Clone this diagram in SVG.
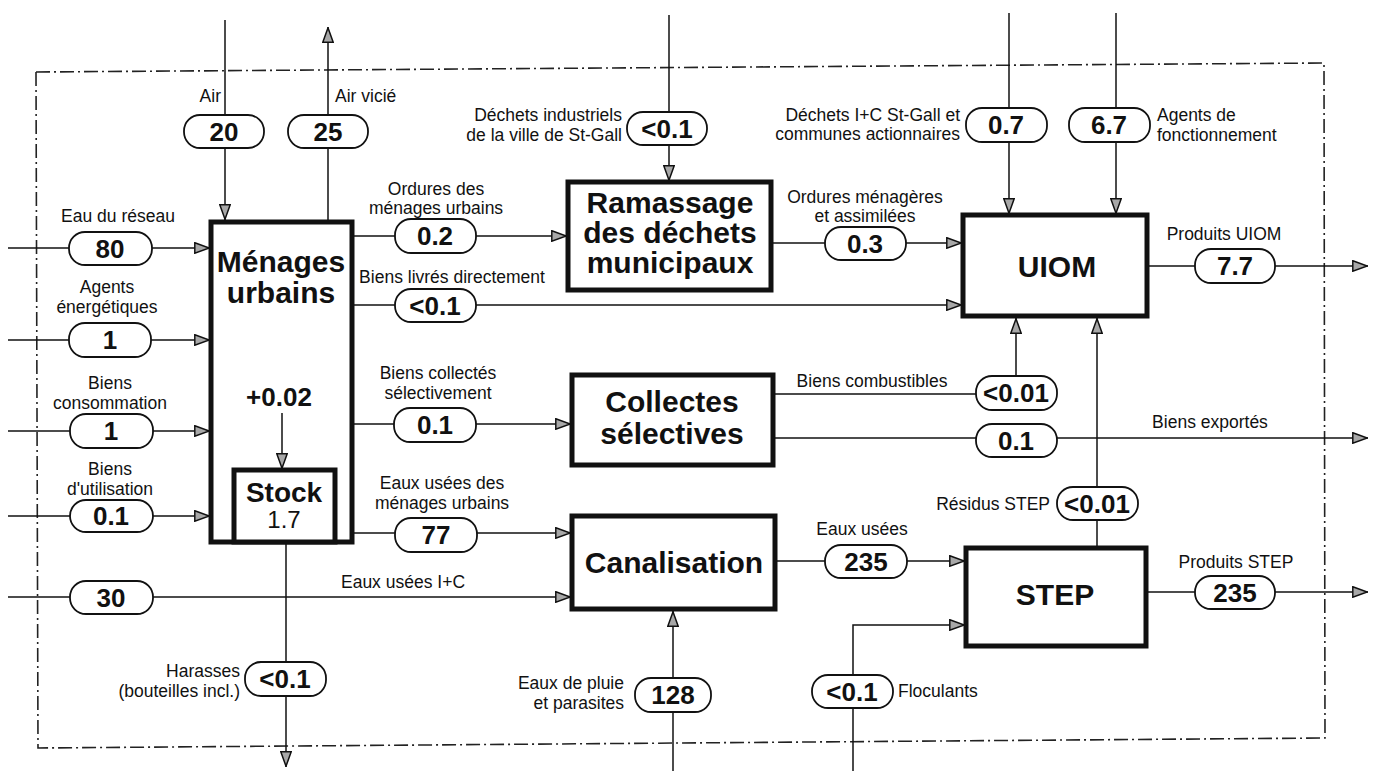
<svg xmlns="http://www.w3.org/2000/svg" width="1376" height="771" viewBox="0 0 1376 771">
<style>
text{font-family:"Liberation Sans",Arial,sans-serif;fill:#111}
.lb{font-size:17.5px}
.num{font-size:26px;font-weight:bold;text-anchor:middle}
.title{font-size:30px;font-weight:bold;text-anchor:middle}
.c{text-anchor:middle}
.e{text-anchor:end}
.box{fill:#fff;stroke:#111;stroke-width:5}
.pill{fill:#fff;stroke:#111;stroke-width:1.8}
.ln{fill:none;stroke:#111;stroke-width:1.5}
.border{fill:none;stroke:#222;stroke-width:1.6;stroke-dasharray:14 4 2 4}
</style>
<defs>
<marker id="ah" viewBox="0 0 16 12" refX="16" refY="6" markerWidth="16" markerHeight="12" orient="auto" markerUnits="userSpaceOnUse">
<path d="M0.8,0.8 L15.2,6 L0.8,11.2 Z" fill="#a8a8a8" stroke="#111" stroke-width="1.5"/>
</marker>
</defs>
<rect width="1376" height="771" fill="#fff"/>
<path class="border" d="M36,72 L1324,63 L1325,738 L38,748 Z"/>

<g id="connectors">
<line class="ln" x1="225" y1="20" x2="225" y2="220" marker-end="url(#ah)"/>
<line class="ln" x1="328" y1="222" x2="328" y2="27" marker-end="url(#ah)"/>
<line class="ln" x1="8" y1="248" x2="210" y2="248" marker-end="url(#ah)"/>
<line class="ln" x1="8" y1="340" x2="210" y2="340" marker-end="url(#ah)"/>
<line class="ln" x1="8" y1="431" x2="210" y2="431" marker-end="url(#ah)"/>
<line class="ln" x1="8" y1="516" x2="210" y2="516" marker-end="url(#ah)"/>
<line class="ln" x1="8" y1="597" x2="571" y2="597" marker-end="url(#ah)"/>
<line class="ln" x1="352" y1="236" x2="567" y2="236" marker-end="url(#ah)"/>
<line class="ln" x1="352" y1="305" x2="962" y2="305" marker-end="url(#ah)"/>
<line class="ln" x1="352" y1="424" x2="571" y2="424" marker-end="url(#ah)"/>
<line class="ln" x1="352" y1="533" x2="571" y2="533" marker-end="url(#ah)"/>
<line class="ln" x1="669" y1="15" x2="669" y2="181" marker-end="url(#ah)"/>
<line class="ln" x1="771" y1="243" x2="962" y2="243" marker-end="url(#ah)"/>
<line class="ln" x1="1009" y1="13" x2="1009" y2="214" marker-end="url(#ah)"/>
<line class="ln" x1="1116" y1="13" x2="1116" y2="214" marker-end="url(#ah)"/>
<line class="ln" x1="1147" y1="266" x2="1368" y2="266" marker-end="url(#ah)"/>
<path class="ln" d="M773,394 H1016 V318" marker-end="url(#ah)"/>
<line class="ln" x1="773" y1="438" x2="1368" y2="438" marker-end="url(#ah)"/>
<line class="ln" x1="775" y1="561" x2="965" y2="561" marker-end="url(#ah)"/>
<line class="ln" x1="1097" y1="548" x2="1097" y2="318" marker-end="url(#ah)"/>
<line class="ln" x1="1146" y1="592" x2="1368" y2="592" marker-end="url(#ah)"/>
<path class="ln" d="M853,771 V625 H965" marker-end="url(#ah)"/>
<line class="ln" x1="673" y1="771" x2="673" y2="611" marker-end="url(#ah)"/>
<line class="ln" x1="286" y1="542" x2="286" y2="767" marker-end="url(#ah)"/>
</g>

<g id="menages">
<rect class="box" x="211" y="222" width="141" height="320" stroke-width="4.5"/>
<text class="title" x="281" y="272">Ménages</text>
<text class="title" x="281" y="303">urbains</text>
<text class="num" x="279" y="406">+0.02</text>
<line class="ln" x1="282" y1="413" x2="282" y2="469" marker-end="url(#ah)"/>
<rect class="box" x="234" y="470" width="101" height="72" stroke-width="3.5"/>
<text class="title" x="284" y="502" style="font-size:28px">Stock</text>
<text x="284" y="528" class="c" style="font-size:24px">1.7</text>
</g>
<g id="ramassage">
<rect class="box" x="568" y="182" width="203" height="108"/>
<text class="title" x="670" y="213">Ramassage</text>
<text class="title" x="670" y="243">des déchets</text>
<text class="title" x="670" y="273">municipaux</text>
</g>
<g id="collectes">
<rect class="box" x="572" y="375" width="201" height="90" stroke-width="4"/>
<text class="title" x="672" y="412">Collectes</text>
<text class="title" x="672" y="444">sélectives</text>
</g>
<g id="canalisation">
<rect class="box" x="572" y="516" width="203" height="93" stroke-width="4"/>
<text class="title" x="674" y="573">Canalisation</text>
</g>
<g id="uiom">
<rect class="box" x="963" y="215" width="184" height="101"/>
<text class="title" x="1057" y="277">UIOM</text>
</g>
<g id="step">
<rect class="box" x="966" y="548" width="180" height="98"/>
<text class="title" x="1055" y="605">STEP</text>
</g>

<g id="flow-labels">
<rect class="pill" x="184" y="115" width="80" height="33" rx="16"/><text class="num" x="224" y="141">20</text>
<text class="lb e" x="221" y="102">Air</text>
<rect class="pill" x="288" y="115" width="80" height="33" rx="16"/><text class="num" x="328" y="141">25</text>
<text class="lb" x="335" y="102">Air vicié</text>

<rect class="pill" x="69" y="232" width="83" height="33" rx="16"/><text class="num" x="110" y="258">80</text>
<text class="lb c" x="118" y="222">Eau du réseau</text>
<rect class="pill" x="69" y="323" width="82" height="34" rx="16"/><text class="num" x="110" y="349">1</text>
<text class="lb c" x="107" y="293.2">Agents</text><text class="lb c" x="107" y="312.8">énergétiques</text>
<rect class="pill" x="70" y="414" width="83" height="34" rx="16"/><text class="num" x="111" y="440">1</text>
<text class="lb c" x="110" y="389.2">Biens</text><text class="lb c" x="110" y="408.8">consommation</text>
<rect class="pill" x="70" y="500" width="83" height="32" rx="16"/><text class="num" x="111" y="525">0.1</text>
<text class="lb c" x="110" y="475.2">Biens</text><text class="lb c" x="110" y="494.8">d'utilisation</text>
<rect class="pill" x="70" y="581" width="83" height="33" rx="16"/><text class="num" x="111" y="607">30</text>
<text class="lb c" x="403" y="588">Eaux usées I+C</text>

<rect class="pill" x="395" y="219" width="81" height="34" rx="16"/><text class="num" x="435" y="245">0.2</text>
<text class="lb c" x="436" y="194.7">Ordures des</text><text class="lb c" x="436" y="214.3">ménages urbains</text>
<rect class="pill" x="395" y="289" width="81" height="33" rx="16"/><text class="num" x="435" y="315">&lt;0.1</text>
<text class="lb c" x="452" y="283">Biens livrés directement</text>
<rect class="pill" x="394" y="408" width="82" height="34" rx="16"/><text class="num" x="435" y="434">0.1</text>
<text class="lb c" x="438" y="379.2">Biens collectés</text><text class="lb c" x="438" y="398.8">sélectivement</text>
<rect class="pill" x="395" y="518" width="82" height="34" rx="16"/><text class="num" x="436" y="544">77</text>
<text class="lb c" x="442" y="489.2">Eaux usées des</text><text class="lb c" x="442" y="508.8">ménages urbains</text>

<rect class="pill" x="627" y="112" width="80" height="33" rx="16"/><text class="num" x="667" y="138">&lt;0.1</text>
<text class="lb e" x="622" y="121.2">Déchets industriels</text><text class="lb e" x="622" y="140.8">de la ville de St-Gall</text>
<rect class="pill" x="825" y="227" width="81" height="33" rx="16"/><text class="num" x="865" y="253">0.3</text>
<text class="lb c" x="865" y="202.7">Ordures ménagères</text><text class="lb c" x="865" y="222.3">et assimilées</text>

<rect class="pill" x="966" y="108" width="81" height="34" rx="16"/><text class="num" x="1006" y="134">0.7</text>
<text class="lb e" x="960" y="120.7">Déchets I+C St-Gall et</text><text class="lb e" x="960" y="140.3">communes actionnaires</text>
<rect class="pill" x="1069" y="108" width="81" height="34" rx="16"/><text class="num" x="1109" y="134">6.7</text>
<text class="lb" x="1157" y="121.2">Agents de</text><text class="lb" x="1157" y="140.8">fonctionnement</text>
<rect class="pill" x="1195" y="249" width="80" height="34" rx="16"/><text class="num" x="1235" y="275">7.7</text>
<text class="lb c" x="1224" y="240">Produits UIOM</text>

<rect class="pill" x="976" y="376" width="81" height="34" rx="16"/><text class="num" x="1016" y="402">&lt;0.01</text>
<text class="lb c" x="872" y="387">Biens combustibles</text>
<rect class="pill" x="976" y="424" width="81" height="33" rx="16"/><text class="num" x="1016" y="450">0.1</text>
<text class="lb c" x="1210" y="428">Biens exportés</text>

<rect class="pill" x="825" y="545" width="82" height="33" rx="16"/><text class="num" x="866" y="571">235</text>
<text class="lb c" x="862" y="535">Eaux usées</text>
<rect class="pill" x="1057" y="487" width="81" height="33" rx="16"/><text class="num" x="1097" y="513">&lt;0.01</text>
<text class="lb e" x="1050" y="510">Résidus STEP</text>
<rect class="pill" x="1195" y="576" width="80" height="33" rx="16"/><text class="num" x="1235" y="602">235</text>
<text class="lb c" x="1236" y="568">Produits STEP</text>

<rect class="pill" x="812" y="675" width="81" height="33" rx="16"/><text class="num" x="852" y="701">&lt;0.1</text>
<text class="lb" x="898" y="697">Floculants</text>
<rect class="pill" x="635" y="678" width="76" height="34" rx="16"/><text class="num" x="673" y="704">128</text>
<text class="lb e" x="624" y="689.2">Eaux de pluie</text><text class="lb e" x="624" y="708.8">et parasites</text>
<rect class="pill" x="245" y="662" width="81" height="34" rx="16"/><text class="num" x="285" y="688">&lt;0.1</text>
<text class="lb e" x="240" y="677.2">Harasses</text><text class="lb e" x="240" y="696.8">(bouteilles incl.)</text>
</g>
</svg>
